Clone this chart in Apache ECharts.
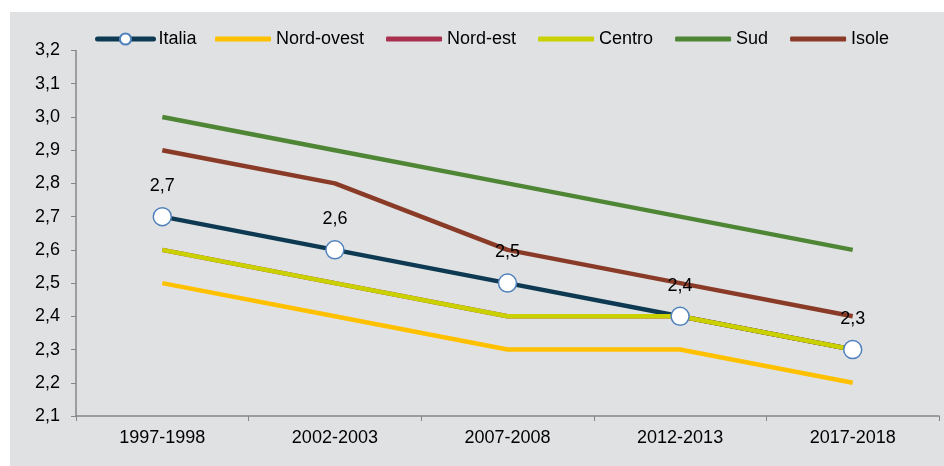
<!DOCTYPE html>
<html>
<head>
<meta charset="utf-8">
<script src="https://cdn.jsdelivr.net/npm/echarts@6/dist/echarts.min.js"></script>
<style>
html,body{margin:0;padding:0;background:#fff;}
#chart{width:944px;height:466px;}
</style>
</head>
<body>
<div id="chart"></div>
<script>
var categories = ['1997-1998', '2002-2003', '2007-2008', '2012-2013', '2017-2018'];
var italia    = [2.7, 2.6, 2.5, 2.4, 2.3];
var nordOvest = [2.5, 2.4, 2.3, 2.3, 2.2];
var nordEst   = [2.6, 2.5, 2.4, 2.4, 2.3];
var centro    = [2.6, 2.5, 2.4, 2.4, 2.3];
var sud       = [3.0, 2.9, 2.8, 2.7, 2.6];
var isole     = [2.9, 2.8, 2.6, 2.5, 2.4];
var yTicks    = [2.1, 2.2, 2.3, 2.4, 2.5, 2.6, 2.7, 2.8, 2.9, 3.0, 3.1, 3.2];

var FONT = '"Liberation Sans", Arial, sans-serif';
function fmt(v) { return Number(v).toFixed(1).replace('.', ','); }

function plain(name, data, color) {
  return {
    name: name, type: 'line', data: data, symbol: 'none',
    lineStyle: { color: color, width: 4.5 },
    itemStyle: { color: color },
    emphasis: { disabled: true },
    animation: false
  };
}

var legendText = { fontFamily: FONT, fontSize: 18, color: '#000' };

var chart = echarts.init(document.getElementById('chart'), null, { renderer: 'canvas' });
chart.setOption({
  backgroundColor: '#ffffff',
  animation: false,
  graphic: [{
    type: 'rect', z: -10, silent: true,
    shape: { x: 10, y: 12, width: 934, height: 454 },
    style: { fill: '#E0E1E3' }
  }],
  legend: [{
    left: 90, top: 25,
    itemWidth: 56, itemHeight: 14,
    lineStyle: { width: 5, cap: 'round' },
    textStyle: legendText,
    data: ['Italia']
  }, {
    left: 210, top: 25,
    itemWidth: 56, itemHeight: 5, itemGap: 22,
    icon: 'roundRect',
    textStyle: legendText,
    data: ['Nord-ovest', 'Nord-est', 'Centro', 'Sud', 'Isole']
  }],
  grid: { left: 76, right: 5, top: 50.5, bottom: 50, containLabel: false },
  xAxis: {
    type: 'category', data: categories, boundaryGap: true,
    axisLine: { lineStyle: { color: '#868686', width: 1.5 } },
    axisTick: { show: true, length: 5, lineStyle: { color: '#868686' } },
    axisLabel: { fontFamily: FONT, fontSize: 18, color: '#000', margin: 13 }
  },
  yAxis: {
    type: 'value', min: yTicks[0], max: yTicks[yTicks.length - 1], interval: 0.1,
    axisLine: { show: true, lineStyle: { color: '#868686', width: 1.5 } },
    axisTick: { show: true, length: 5, lineStyle: { color: '#868686' } },
    splitLine: { show: false },
    axisLabel: { fontFamily: FONT, fontSize: 18, color: '#000', margin: 16, formatter: fmt }
  },
  series: [
    {
      name: 'Italia', type: 'line', data: italia,
      symbol: 'circle', symbolSize: 18,
      lineStyle: { color: '#0D3A52', width: 4.5 },
      itemStyle: { color: '#ffffff', borderColor: '#4F81BD', borderWidth: 1.5 },
      label: { show: true, position: 'top', distance: 12, fontFamily: FONT, fontSize: 18, color: '#000', formatter: function (p) { return fmt(p.value); } },
      emphasis: { disabled: true },
      animation: false
    },
    plain('Nord-ovest', nordOvest, '#FFC000'),
    plain('Nord-est', nordEst, '#A8304E'),
    plain('Centro', centro, '#C9D200'),
    plain('Sud', sud, '#4F8636'),
    plain('Isole', isole, '#8A3B27')
  ]
});
</script>
</body>
</html>
